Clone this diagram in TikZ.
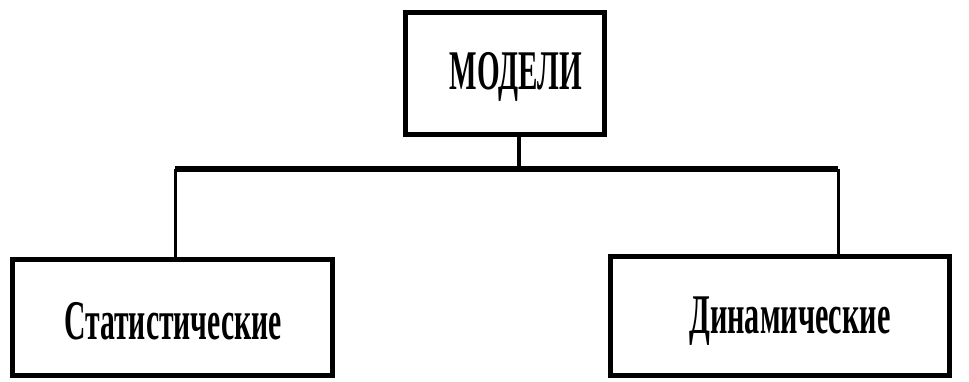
\documentclass[tikz,border=0pt]{standalone}
\usepackage{fontspec}
\setmainfont{Liberation Serif}
\usepackage{graphicx}
\newcommand{\boxtext}[2]{\scalebox{#1}[1]{\fontsize{56}{60}\selectfont\bfseries #2}}

\begin{document}
\begin{tikzpicture}[x=1pt,y=1pt,
        modelbox/.style={draw=black, line width=5pt, inner sep=0pt, fill=white},
        bus/.style={black, line width=6pt},
        drop/.style={black, line width=3pt}]
        \useasboundingbox (0,0) rectangle (969,381);
        % Below nodes are the boxes.
            \node[modelbox, minimum width=199pt, minimum height=122pt] (models) at (505,307.5) {};
            \node[modelbox, minimum width=320pt, minimum height=116pt] (static) at (172.5,63.5) {};
            \node[modelbox, minimum width=339pt, minimum height=119pt] (dynamic) at (780,65) {};
        % Below nodes are the labels.
            \node[] (modelslabel) at (516,304) {\boxtext{0.52}{МОДЕЛИ}};
            \node[] (staticlabel) at (173,60) {\boxtext{0.53}{Статистические}};
            \node[] (dynamiclabel) at (790,60) {\boxtext{0.54}{Динамические}};
        % This draws the tree lines.
            \coordinate (stem) at (519,212);
            \coordinate (lbus) at (175,212);
            \coordinate (rbus) at (838,212);
            \draw[line width=4pt] (models.south -| stem) -- (stem);
            \draw[bus] (lbus) -- (rbus);
            \draw[drop] (lbus) -- (lbus |- static.north);
            \draw[drop] (rbus) -- (rbus |- dynamic.north);
    \end{tikzpicture}
\end{document}
